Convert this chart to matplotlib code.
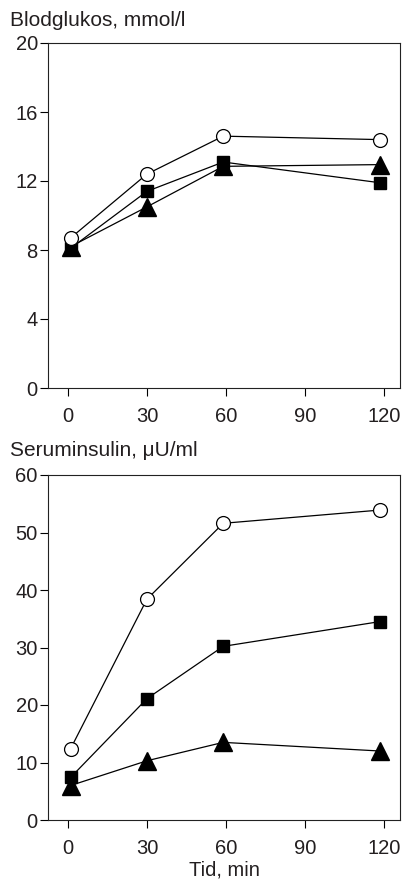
import matplotlib
matplotlib.use("Agg")
import matplotlib.pyplot as plt

plt.rcParams['font.family'] = ['Liberation Sans', 'DejaVu Sans']

# Data
time_min = [1, 30, 59, 118.5]
xticks = [0, 30, 60, 90, 120]

glucose_open_circle = [8.7, 12.4, 14.6, 14.4]
glucose_square = [8.1, 11.4, 13.1, 11.9]
glucose_triangle = [8.2, 10.5, 12.85, 12.95]

insulin_open_circle = [12.4, 38.4, 51.6, 53.9]
insulin_square = [7.4, 21.1, 30.2, 34.5]
insulin_triangle = [6.0, 10.3, 13.5, 12.0]

glucose_yticks = [0, 4, 8, 12, 16, 20]
insulin_yticks = [0, 10, 20, 30, 40, 50, 60]

title_top = "Blodglukos, mmol/l"
title_bottom = "Seruminsulin, \u03bcU/ml"
xlabel = "Tid, min"

txt = '#231f20'
fig = plt.figure(figsize=(4.04, 8.82), dpi=100)

ax1 = fig.add_axes([48/404, 1-388/882, 352/404, 345/882])
ax2 = fig.add_axes([48/404, 1-820/882, 352/404, 345/882])

def style(ax, yticks, ymax):
    ax.set_xlim(-7.6, 126.2)
    ax.set_ylim(0, ymax)
    ax.set_xticks(xticks)
    ax.set_yticks(yticks)
    ax.tick_params(axis='both', direction='out', length=5.8, width=0.8,
                   labelsize=14.5, colors='black', labelcolor=txt)
    ax.tick_params(axis='y', pad=1.5)
    ax.tick_params(axis='x', pad=8)
    for s in ax.spines.values():
        s.set_linewidth(0.8)
        s.set_color('#222222')

def plot_series(ax, c, s, t):
    ax.plot(time_min, t, color='black', lw=0.9, marker='^', ms=12.5,
            mfc='black', mec='black', zorder=3)
    ax.plot(time_min, s, color='black', lw=0.9, marker='s', ms=9,
            mfc='black', mec='black', zorder=4)
    ax.plot(time_min, c, color='black', lw=0.9, marker='o', ms=10,
            mfc='white', mec='black', mew=0.9, zorder=5)

plot_series(ax1, glucose_open_circle, glucose_square, glucose_triangle)
plot_series(ax2, insulin_open_circle, insulin_square, insulin_triangle)
style(ax1, glucose_yticks, 20)
style(ax2, insulin_yticks, 60)

ax2.set_xlabel(xlabel, fontsize=14.5, color=txt, labelpad=1.5)

fig.text(10/404, 1-26/882, title_top, fontsize=15, color=txt, ha='left', va='baseline')
fig.text(10/404, 1-456/882, title_bottom, fontsize=15, color=txt, ha='left', va='baseline')

fig.savefig('out.png', dpi=100)
